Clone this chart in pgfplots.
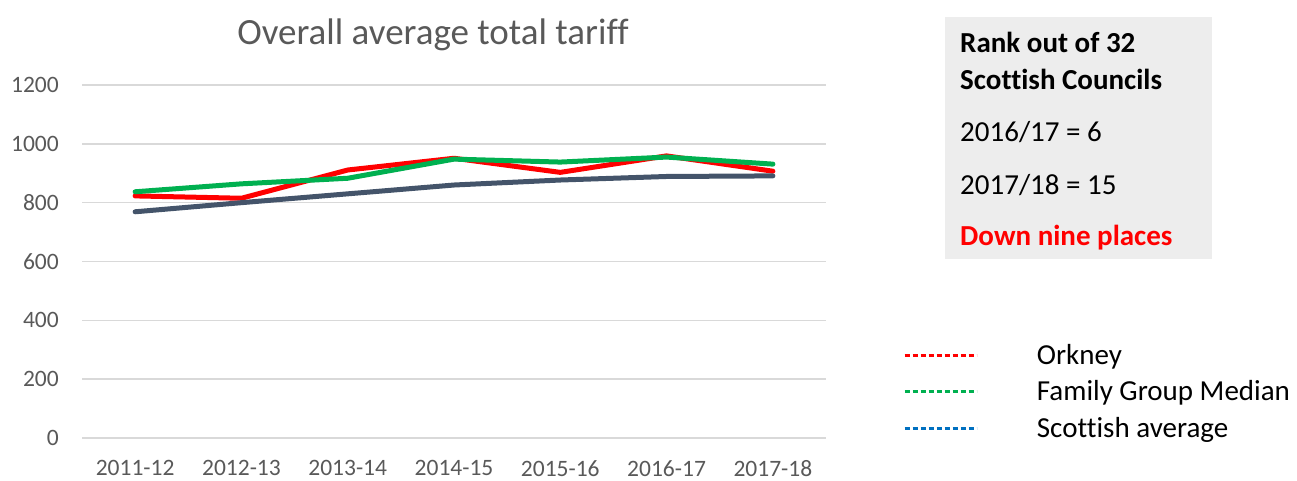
\documentclass[border=0pt]{standalone}
\usepackage{pgfplots}
\pgfplotsset{compat=1.18}
\usepackage{fontspec}
\setmainfont{Carlito}[Ligatures=NoCommon]
\definecolor{orkred}{HTML}{FF0000}
\definecolor{fgreen}{HTML}{00B050}
\definecolor{slate}{HTML}{44546A}
\definecolor{sblue}{HTML}{0070C0}
\definecolor{gridc}{HTML}{D9D9D9}
\definecolor{txtgray}{HTML}{595959}
\definecolor{boxgray}{HTML}{EDEDED}
\begin{document}
\begin{tikzpicture}[x=1pt,y=1pt]
\path[use as bounding box] (0,0) rectangle (1297,480);
% info box
\fill[boxgray] (945,221) rectangle (1212,463);
\node[anchor=base west, inner sep=0pt, font=\fontsize{29}{34}\selectfont\bfseries] at (960,427) {Rank out of 32};
\node[anchor=base west, inner sep=0pt, font=\fontsize{29}{34}\selectfont\bfseries] at (960,390.5) {Scottish Councils};
\node[anchor=base west, inner sep=0pt, font=\fontsize{29}{34}\selectfont] at (960,338) {2016/17 = 6};
\node[anchor=base west, inner sep=0pt, font=\fontsize{29}{34}\selectfont] at (960,286) {2017/18 = 15};
\node[anchor=base west, inner sep=0pt, font=\fontsize{29}{34}\selectfont\bfseries, text=orkred] at (960,235) {Down nine places};
% title
\node[anchor=base, inner sep=0pt, font=\fontsize{37}{42}\selectfont, text=txtgray] at (433,435) {Overall average total tariff};
\begin{axis}[
  at={(82pt,42pt)}, anchor=south west,
  scale only axis, width=744pt, height=353pt,
  xmin=-0.5, xmax=6.5, ymin=0, ymax=1200,
  ytick={0,200,400,600,800,1000,1200},
  xtick={0,1,2,3,4,5,6},
  xticklabels={2011-12,2012-13,2013-14,2014-15,2015-16,2016-17,2017-18},
  axis line style={draw=none},
  major tick length=0pt,
  ymajorgrids, grid style={gridc, line width=1.5pt},
  /pgf/number format/assume math mode=true,
  /pgf/number format/1000 sep={},
  tick label style={font=\fontsize{23.5}{28}\selectfont, text=txtgray, inner sep=0pt},
  yticklabel style={anchor=east, xshift=-23pt},
  xticklabel style={anchor=north, yshift=-22pt},
  clip=false,
  legend style={draw=none, fill=none, at={(1.1035,0.266)}, anchor=north west,
    inner sep=0pt, column sep=59pt, row sep=10.5pt,
    font=\fontsize{29}{34}\selectfont,
    nodes={inner sep=0pt, text height=20pt, text depth=6pt}},
  legend cell align=left,
  legend image code/.code={\draw[#1] (0pt,2pt) -- (72pt,2pt);},
]
\addplot[orkred, line width=5pt, line join=round, line cap=round, forget plot]
  coordinates {(0,823) (1,815) (2,911) (3,951) (4,903) (5,959) (6,907)};
\addplot[fgreen, line width=5pt, line join=round, line cap=round, forget plot]
  coordinates {(0,837) (1,864) (2,883) (3,948) (4,938) (5,955) (6,931)};
\addplot[slate, line width=5pt, line join=round, line cap=round, forget plot]
  coordinates {(0,769) (1,800) (2,830) (3,860) (4,877) (5,889) (6,891)};
\addlegendimage{orkred, line width=2.7pt, dash pattern=on 5pt off 3pt}
\addlegendentry{Orkney}
\addlegendimage{fgreen, line width=2.7pt, dash pattern=on 5pt off 3pt}
\addlegendentry{Family Group Median}
\addlegendimage{sblue, line width=2.7pt, dash pattern=on 5pt off 3pt}
\addlegendentry{Scottish average}
\end{axis}
\end{tikzpicture}
\end{document}
